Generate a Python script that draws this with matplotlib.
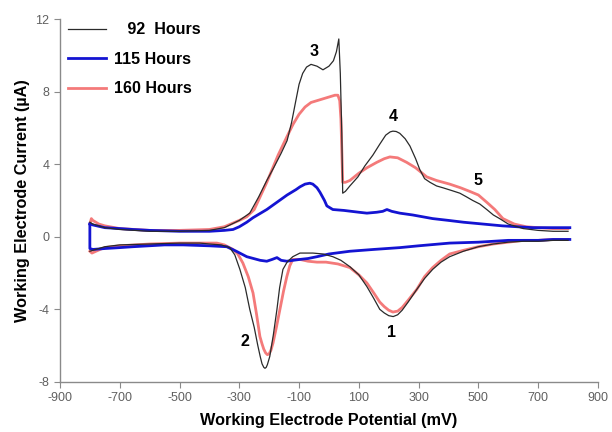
"""Cyclic voltammograms of the working electrode at three incubation times."""

import matplotlib.pyplot as plt

plt.rcParams["font.family"] = ["Liberation Sans", "DejaVu Sans"]
plt.rcParams["axes.unicode_minus"] = False

# 92 hours: forward (oxidative) scan, then reverse scan
H92_FWD_X = [-800, -790, -750, -700, -600, -500, -400, -350, -300, -265, -235, -208,
             -185, -160, -140, -125, -112, -100, -88, -75, -60, -40, -20, 0, 15, 25,
             33, 38, 43, 46, 55, 70, 97, 120, 147, 170, 190, 205, 214, 225, 237, 255,
             271, 290, 304, 320, 338, 360, 381, 410, 438, 460, 481, 505, 528, 550, 571,
             600, 650, 700, 750, 800]
H92_FWD_Y = [0.8, 0.7, 0.5, 0.4, 0.3, 0.3, 0.35, 0.5, 0.9, 1.3, 2.2, 3.1,
             3.8, 4.6, 5.3, 6.3, 7.4, 8.4, 9.0, 9.35, 9.5, 9.4, 9.2, 9.4, 9.7, 10.2,
             10.9, 9.0, 5.7, 2.4, 2.5, 2.8, 3.3, 3.9, 4.5, 5.1, 5.6, 5.78, 5.82, 5.8, 5.7, 5.4,
             5.0, 4.3, 3.7, 3.2, 3.0, 2.8, 2.7, 2.55, 2.4, 2.2, 2.0, 1.8, 1.5, 1.2, 1.0,
             0.7, 0.45, 0.35, 0.3, 0.3]
H92_REV_X = [800, 750, 700, 650, 600, 550, 500, 450, 404, 375, 347, 320, 294, 265, 245,
             230, 215, 200, 185, 170, 150, 127, 100, 70, 40, 13, -20, -54, -97, -121,
             -140, -154, -165, -174, -186, -198, -206, -210, -214, -218, -224, -230,
             -238, -250, -265, -280, -298, -315, -332, -360, -400, -432, -500, -600,
             -700, -750, -790, -800]
H92_REV_Y = [-0.2, -0.2, -0.25, -0.25, -0.3, -0.4, -0.55, -0.8, -1.1, -1.4, -1.8, -2.3,
             -2.9, -3.6, -4.05, -4.3, -4.4, -4.35, -4.2, -4.0, -3.4, -2.75, -2.1, -1.65,
             -1.3, -1.1, -0.95, -0.9, -0.9, -1.1, -1.4, -1.8, -2.8, -4.0, -5.4, -6.6,
             -7.05, -7.2, -7.25, -7.2, -7.0, -6.6, -6.0, -5.0, -4.0, -2.8, -1.8, -1.0,
             -0.6, -0.45, -0.4, -0.35, -0.35, -0.4, -0.45, -0.55, -0.75, -0.8]

# 115 hours
H115_FWD_X = [-800, -790, -750, -700, -656, -600, -500, -432, -400, -350, -321, -300,
              -275, -254, -208, -174, -140, -110, -97, -80, -64, -54, -40, -30, -15, -7,
              13, 50, 100, 127, 160, 180, 194, 210, 237, 280, 347, 400, 450, 515, 580,
              682, 750, 806]
H115_FWD_Y = [0.7, 0.65, 0.5, 0.45, 0.4, 0.35, 0.3, 0.3, 0.3, 0.35, 0.4, 0.55,
              0.8, 1.05, 1.5, 1.9, 2.3, 2.6, 2.75, 2.9, 2.95, 2.9, 2.7, 2.45, 2.0, 1.7,
              1.5, 1.45, 1.35, 1.3, 1.35, 1.4, 1.5, 1.4, 1.3, 1.2, 1.0, 0.9, 0.8, 0.7, 0.6,
              0.5, 0.5, 0.5]
H115_REV_X = [806, 750, 700, 600, 500, 404, 300, 237, 150, 70, 0, -40, -70, -97, -120,
              -141, -160, -174, -190, -208, -230, -275, -310, -342, -400, -488, -550,
              -656, -700, -750, -790, -800, -800]
H115_REV_Y = [-0.15, -0.15, -0.2, -0.2, -0.3, -0.35, -0.5, -0.6, -0.7, -0.8, -0.95,
              -1.1, -1.2, -1.25, -1.3, -1.35, -1.3, -1.15, -1.25, -1.35, -1.3, -1.1,
              -0.8, -0.55, -0.5, -0.45, -0.45, -0.55, -0.6, -0.65, -0.7, -0.65, 0.7]

# 160 hours
H160_FWD_X = [-800, -795, -790, -770, -750, -700, -600, -500, -400, -350, -300, -275,
              -250, -208, -170, -141, -120, -100, -80, -60, -40, -20, 0, 20, 30, 36, 40,
              43, 46, 55, 70, 100, 127, 160, 185, 204, 230, 260, 290, 327, 360, 404, 440,
              471, 500, 528, 555, 582, 620, 660, 700, 750, 800]
H160_FWD_Y = [0.7, 1.0, 0.9, 0.7, 0.6, 0.45, 0.35, 0.35, 0.4, 0.55, 0.9, 1.1,
              1.5, 3.0, 4.5, 5.5, 6.2, 6.75, 7.15, 7.4, 7.5, 7.6, 7.7, 7.8, 7.8, 7.5, 6.5,
              4.8, 3.0, 3.0, 3.1, 3.5, 3.8, 4.1, 4.3, 4.4, 4.35, 4.1, 3.8, 3.3, 3.1, 2.9,
              2.7, 2.5, 2.3, 1.9, 1.5, 1.0, 0.7, 0.55, 0.5, 0.45, 0.45]
H160_REV_X = [800, 750, 700, 650, 600, 550, 500, 450, 404, 375, 347, 320, 294, 265, 245,
              230, 214, 200, 185, 170, 150, 127, 100, 70, 30, -10, -40, -70, -97, -121,
              -131, -141, -152, -164, -176, -187, -194, -200, -206, -212, -218, -224,
              -231, -242, -254, -270, -288, -305, -321, -350, -375, -400, -500, -600,
              -700, -750, -766, -793, -800]
H160_REV_Y = [-0.15, -0.15, -0.2, -0.2, -0.3, -0.4, -0.55, -0.75, -0.95, -1.3, -1.7,
              -2.2, -2.9, -3.5, -3.9, -4.1, -4.15, -4.05, -3.85, -3.6, -3.1, -2.55, -2.1,
              -1.7, -1.5, -1.4, -1.4, -1.35, -1.25, -1.25, -1.6, -2.2, -3.0, -4.0, -5.0,
              -5.85, -6.25, -6.45, -6.5, -6.4, -6.2, -5.9, -5.5, -4.3, -3.1, -2.2, -1.45,
              -0.95, -0.7, -0.45, -0.35, -0.35, -0.35, -0.4, -0.5, -0.6, -0.7, -0.9, -0.8]

LABELS = ["   92  Hours", "115 Hours", "160 Hours"]

# peak numbers and where they sit (mV, µA)
PEAK_NAMES = ["1", "2", "3", "4", "5"]
PEAK_X = [210, -281, -50, 214, 498]
PEAK_Y = [-5.3, -5.8, 10.2, 6.6, 3.1]

X_TICKS = list(range(-900, 901, 200))
Y_TICKS = [-8, -4, 0, 4, 8, 12]


def main():
    fig = plt.figure(figsize=(6.12, 4.32), dpi=100)
    ax = fig.add_axes([0.098, 0.116, 0.879, 0.84])

    series = [
        (H92_FWD_X, H92_FWD_Y, H92_REV_X, H92_REV_Y, "#2a2a2a", 0.9, 3),
        (H115_FWD_X, H115_FWD_Y, H115_REV_X, H115_REV_Y, "#1414d2", 2.0, 2),
        (H160_FWD_X, H160_FWD_Y, H160_REV_X, H160_REV_Y, "#f47a7a", 2.0, 1),
    ]
    for (fx, fy, rx, ry, color, lw, z), label in zip(series, LABELS):
        ax.plot(fx, fy, color=color, linewidth=lw, zorder=z, label=label)
        ax.plot(rx, ry, color=color, linewidth=lw, zorder=z)

    for name, x, y in zip(PEAK_NAMES, PEAK_X, PEAK_Y):
        ax.text(x, y, name, ha="center", va="center", fontsize=11.5, fontweight="bold")

    ax.set_xlim(-900, 900)
    ax.set_ylim(-8, 12)
    ax.set_xticks(X_TICKS)
    ax.set_yticks(Y_TICKS)
    for side in ("top", "right"):
        ax.spines[side].set_visible(False)
    for side in ("left", "bottom"):
        ax.spines[side].set_color("#8a8a8a")
        ax.spines[side].set_linewidth(1.0)
    ax.tick_params(direction="out", length=4, color="#8a8a8a",
                   labelcolor="#606060", labelsize=9)

    ax.set_xlabel("Working Electrode Potential (mV)", fontsize=11.7,
                  fontweight="bold", labelpad=6)
    ax.set_ylabel("Working Electrode Current (µA)", fontsize=11.7,
                  fontweight="bold", labelpad=4)

    ax.legend(loc="upper left", bbox_to_anchor=(-0.012, 1.03), frameon=False,
              handlelength=2.4, handletextpad=0.5, labelspacing=0.9,
              prop={"weight": "bold", "size": 11.5})

    fig.savefig("out.png", dpi=100, facecolor="white")
    plt.close(fig)


if __name__ == "__main__":
    main()
